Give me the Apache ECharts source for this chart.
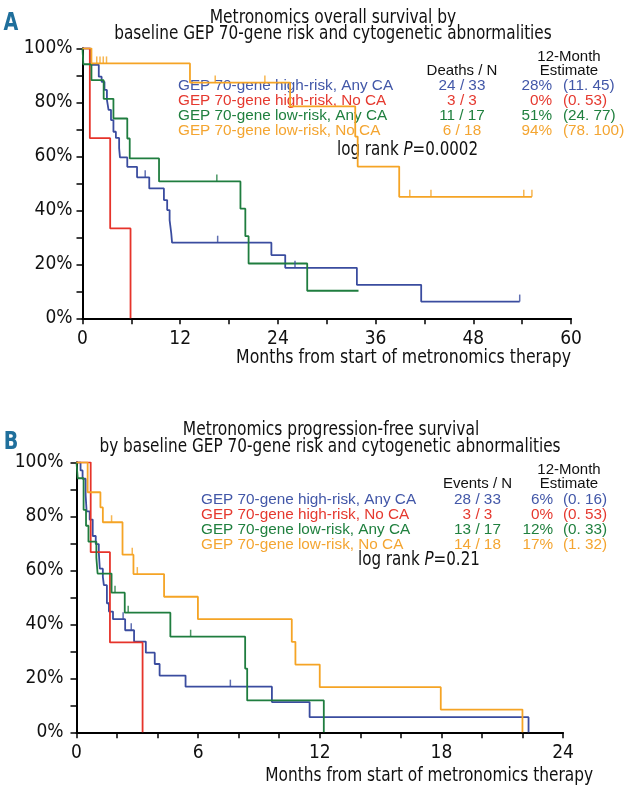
<!DOCTYPE html>
<html><head><meta charset="utf-8">
<script src="https://cdn.jsdelivr.net/npm/echarts@6/dist/echarts.min.js"></script>
<style>html,body{margin:0;padding:0;background:#fff}#c{width:625px;height:798px}</style>
</head><body><div id="c"></div>
<script>
// ---------- Panel A: overall survival (months, % surviving) ----------
const osBlueT   = [0, 1.0, 2.0, 2.35, 2.7, 3.0, 3.2, 3.5, 3.8, 4.1, 4.5, 4.6, 5.5, 6.7, 8.2, 10.0, 10.4, 10.7, 10.9, 11.0, 23.2, 24.9, 33.7, 41.6, 53.7];
const osBlueS   = [100, 93.9, 89.5, 87.6, 84.6, 80.9, 77.2, 73.4, 69.1, 66.8, 63.0, 59.6, 56.1, 52.2, 48.1, 43.8, 40.1, 36.4, 31.5, 28.0, 23.4, 18.7, 12.4, 6.2, 6.2];
const osBlueCens = [7.7, 16.6, 26.1, 53.7];
const osRedT    = [0, 0.9, 3.4, 5.9];
const osRedS    = [100, 66.7, 33.3, 0];
const osRedCens = [];
const osGreenT  = [0, 0.1, 1.1, 2.6, 3.8, 5.5, 5.8, 9.4, 19.4, 20.0, 20.4, 27.6, 33.9];
const osGreenS  = [100, 94.1, 88.2, 81.3, 74.0, 66.6, 59.2, 50.7, 40.6, 30.4, 20.3, 10.2, 10.2];
const osGreenCens = [16.5];
const osOrangeT = [0, 1.1, 13.2, 25.5, 33.5, 33.8, 38.9, 55.2];
const osOrangeS = [100, 94.4, 87.3, 78.5, 67.3, 56.2, 45.0, 45.0];
const osOrangeCens = [1.75, 2.15, 2.55, 2.95, 16.3, 22.4, 40.2, 42.8, 54.2, 55.2];

// ---------- Panel B: progression-free survival ----------
const pfsBlueT  = [0, 0.2, 0.3, 0.45, 0.5, 0.65, 0.8, 0.95, 1.1, 1.15, 1.3, 1.35, 1.5, 1.6, 1.8, 2.4, 2.84, 3.42, 3.86, 4.10, 5.38, 9.64, 11.5, 22.3];
const pfsBlueS  = [100, 97.0, 93.9, 87.9, 81.8, 78.8, 72.7, 69.7, 66.7, 60.6, 57.6, 54.5, 47.8, 44.7, 41.9, 37.8, 33.6, 29.5, 25.3, 21.0, 16.9, 11.2, 5.6, 0];
const pfsBlueCens = [2.3, 2.7, 7.59];
const pfsRedT   = [0, 0.7, 1.65, 3.26];
const pfsRedS   = [100, 66.7, 33.3, 0];
const pfsRedCens = [];
const pfsGreenT = [0, 0.06, 0.35, 0.47, 0.59, 0.98, 1.04, 1.73, 2.38, 4.63, 8.32, 8.42, 12.2];
const pfsGreenS = [100, 94.1, 82.4, 76.5, 70.6, 64.7, 58.8, 51.7, 44.3, 35.4, 23.6, 11.8, 0];
const pfsGreenCens = [1.9, 2.55, 5.63];
const pfsOrangeT = [0, 0.55, 1.18, 1.3, 2.27, 2.81, 4.32, 5.99, 10.62, 10.8, 12.0, 17.97, 22.0];
const pfsOrangeS = [100, 88.9, 83.3, 77.8, 65.8, 58.6, 50.2, 41.9, 33.5, 25.1, 16.7, 8.4, 0];
const pfsOrangeCens = [1.73, 2.75, 3.0];

// ---------- Legend / table text ----------
const groupNames = ['GEP 70-gene high-risk, Any CA', 'GEP 70-gene high-risk, No CA', 'GEP 70-gene low-risk, Any CA', 'GEP 70-gene low-risk, No CA'];
const osCounts  = ['24 / 33', '3 / 3', '11 / 17', '6 / 18'];
const osPct     = ['28%', '0%', '51%', '94%'];
const osCI      = ['(11. 45)', '(0. 53)', '(24. 77)', '(78. 100)'];
const pfsCounts = ['28 / 33', '3 / 3', '13 / 17', '14 / 18'];
const pfsPct    = ['6%', '0%', '12%', '17%'];
const pfsCI     = ['(0. 16)', '(0. 53)', '(0. 33)', '(1. 32)'];
const osTicksX  = [0, 60, 12];
const pfsTicksX = [0, 24, 6];

const COLORS = ['#3a4c9f', '#e6332a', '#1f7d3f', '#f5a425'];
const TXT = ['#4257a8', '#e5392f', '#20803f', '#f4a531'];
const COND = '"Liberation Sans Narrow","DejaVu Sans Condensed","Arial Narrow",sans-serif';
const REG = '"Liberation Sans",Arial,sans-serif';

function valAt(T, S, t) { let v = S[0]; for (let i = 0; i < T.length; i++) { if (T[i] <= t) v = S[i]; } return v; }

function curve(T, S, color, ai) {
  return { type: 'line', step: 'end', symbol: 'none', xAxisIndex: ai, yAxisIndex: ai,
    lineStyle: { color: color, width: 1.8 }, data: T.map((t, i) => [t, S[i]]), silent: true, z: 3 };
}
function cens(T, S, C, color, ai) {
  return { type: 'scatter', xAxisIndex: ai, yAxisIndex: ai, symbol: 'rect', symbolSize: [1.5, 7], symbolOffset: [0, -3.5],
    itemStyle: { color: color }, data: C.map(t => [t, valAt(T, S, t)]), silent: true, z: 4 };
}

const osSets = [[osBlueT, osBlueS, osBlueCens], [osRedT, osRedS, osRedCens], [osGreenT, osGreenS, osGreenCens], [osOrangeT, osOrangeS, osOrangeCens]];
const pfsSets = [[pfsBlueT, pfsBlueS, pfsBlueCens], [pfsRedT, pfsRedS, pfsRedCens], [pfsGreenT, pfsGreenS, pfsGreenCens], [pfsOrangeT, pfsOrangeS, pfsOrangeCens]];
const series = [];
osSets.forEach((s, i) => { series.push(curve(s[0], s[1], COLORS[i], 0)); series.push(cens(s[0], s[1], s[2], COLORS[i], 0)); });
pfsSets.forEach((s, i) => { series.push(curve(s[0], s[1], COLORS[i], 1)); series.push(cens(s[0], s[1], s[2], COLORS[i], 1)); });

function yAx(gi, margin) {
  return { type: 'value', gridIndex: gi, min: 0, max: 100, interval: 20,
    axisLine: { show: true, lineStyle: { color: '#000', width: 2 } },
    axisTick: { show: true, inside: false, length: 6, lineStyle: { color: '#000', width: 1.5 } },
    minorTick: { show: true, splitNumber: 2, length: 6, lineStyle: { color: '#000', width: 1.5 } },
    splitLine: { show: false },
    axisLabel: { formatter: '{value}%', color: '#111', fontFamily: COND, fontSize: 19, margin: margin, padding: [8, 0, 0, 0] } };
}
function xAx(gi, ticks, minorSplit) {
  return { type: 'value', gridIndex: gi, min: ticks[0], max: ticks[1], interval: ticks[2],
    axisLine: { show: true, onZero: false, lineStyle: { color: '#000', width: 2 } },
    axisTick: { show: true, inside: false, length: 6, lineStyle: { color: '#000', width: 1.5 } },
    minorTick: { show: true, splitNumber: minorSplit, length: 6, lineStyle: { color: '#000', width: 1.5 } },
    splitLine: { show: false },
    axisLabel: { color: '#111', fontFamily: COND, fontSize: 19, margin: 11 } };
}

const graphic = [];
function txt(text, x, y, font, fill, align, sx) {
  graphic.push({ type: 'text', silent: true, x: x, y: y, scaleX: sx || 1,
    style: { text: text, x: 0, y: 0, font: font, fill: fill, align: align || 'left', verticalAlign: 'middle' } });
}
function logrank(pText, x, y, sx) {
  graphic.push({ type: 'text', silent: true, x: x, y: y, scaleX: sx,
    style: { text: '{a|log rank }{i|P}{a|' + pText + '}', x: 0, y: 0, align: 'left', verticalAlign: 'middle',
    rich: { a: { fontFamily: COND, fontSize: 20, fill: '#111' }, i: { fontFamily: COND, fontSize: 20, fontStyle: 'italic', fill: '#111' } } } });
}
function table(rows, headerY, countHead, counts, pcts, cis, nameX, countX, pctX, ciX) {
  txt('12-Month', 569, headerY - 14.5, '15px ' + REG, '#111', 'center');
  txt('Estimate', 569, headerY, '15px ' + REG, '#111', 'center');
  txt(countHead, countX, headerY, '15px ' + REG, '#111', 'center');
  rows.forEach((y, i) => {
    txt(groupNames[i], nameX, y, '15.3px ' + REG, TXT[i], 'left');
    txt(counts[i], countX, y, '15.3px ' + REG, TXT[i], 'center');
    txt(pcts[i], pctX, y, '15.3px ' + REG, TXT[i], 'right');
    txt(cis[i], ciX, y, '15.3px ' + REG, TXT[i], 'left');
  });
}

// Panel A texts
txt('A', 11, 23, 'bold 25px ' + COND, '#1f6f9c', 'center', 0.85);
txt('Metronomics overall survival by', 333, 17.5, '20px ' + COND, '#111', 'center', 0.86);
txt('baseline GEP 70-gene risk and cytogenetic abnormalities', 333, 34, '20px ' + COND, '#111', 'center', 0.85);
table([86, 100.7, 115.7, 130.7], 71, 'Deaths / N', osCounts, osPct, osCI, 178, 462, 552, 563);
logrank('=0.0002', 337, 150, 0.84);
txt('Months from start of metronomics therapy', 571, 358, '19px ' + COND, '#111', 'right', 0.92);

// Panel B texts
txt('B', 11, 442, 'bold 25px ' + COND, '#1f6f9c', 'center', 0.85);
txt('Metronomics progression-free survival', 331, 430, '20px ' + COND, '#111', 'center', 0.86);
txt('by baseline GEP 70-gene risk and cytogenetic abnormalities', 330, 447, '20px ' + COND, '#111', 'center', 0.85);
table([500, 515, 530, 545], 484.3, 'Events / N', pfsCounts, pfsPct, pfsCI, 201, 477.5, 553, 563);
logrank('=0.21', 358, 560, 0.84);
txt('Months from start of metronomics therapy', 593, 776, '19px ' + COND, '#111', 'right', 0.9);

const chart = echarts.init(document.getElementById('c'), null, { renderer: 'canvas' });
chart.setOption({
  animation: false,
  backgroundColor: '#fff',
  grid: [
    { left: 82.5, top: 48.3, width: 488.5, height: 270 },
    { left: 76.5, top: 462.3, width: 486.5, height: 270 }
  ],
  xAxis: [xAx(0, osTicksX, 2), xAx(1, pfsTicksX, 3)],
  yAxis: [yAx(0, 10), yAx(1, 13)],
  series: series,
  graphic: graphic
});
</script></body></html>
